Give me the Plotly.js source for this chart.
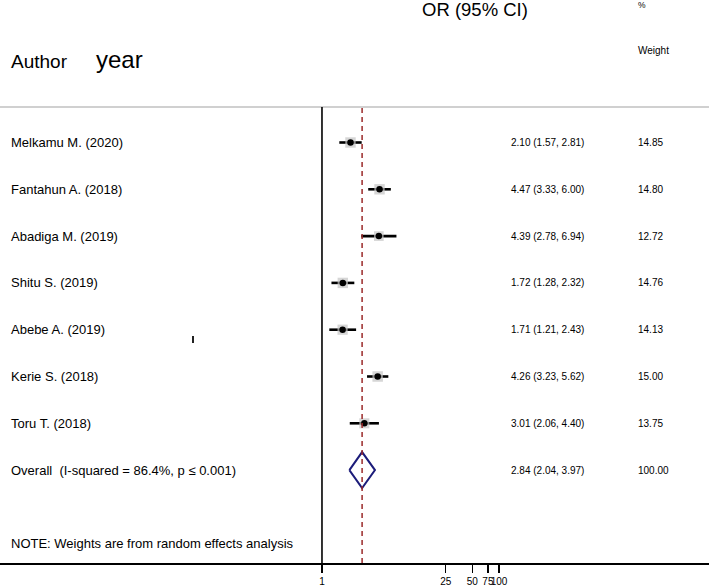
<!DOCTYPE html>
<html>
<head>
<meta charset="utf-8">
<script src="https://cdn.plot.ly/plotly-3.0.1.min.js"></script>
<style>
  html, body { margin: 0; padding: 0; background: #fff; }
  #grafico { width: 709px; height: 588px; }
</style>
</head>
<body>
<div id="grafico"></div>
<script>
// study data
const authors = ['Melkamu M. (2020)', 'Fantahun A. (2018)', 'Abadiga M. (2019)', 'Shitu S. (2019)',
                 'Abebe A. (2019)', 'Kerie S. (2018)', 'Toru T. (2018)'];
const oddsRatio = [2.10, 4.47, 4.39, 1.72, 1.71, 4.26, 3.01];
const ciLow  = [1.57, 3.33, 2.78, 1.28, 1.21, 3.23, 2.06];
const ciHigh = [2.81, 6.00, 6.94, 2.32, 2.43, 5.62, 4.40];
const weights = [14.85, 14.80, 12.72, 14.76, 14.13, 15.00, 13.75];

// pooled estimate
const overallLabel = 'Overall  (I-squared = 86.4%, p \u2264 0.001)';
const overallOR = 2.84;
const overallLow = 2.04;
const overallHigh = 3.97;
const overallWeight = 100.00;

const tickVals = [1, 25, 50, 75, 100];
const tickText = ['1', '25', '50', '75', '100'];

const W = 709, H = 588, plotH = 563;
const FONT = 'Liberation Sans, Arial, Helvetica, sans-serif';

// pixel -> paper helpers
const px = x => x / W;
const py = y => 1 - y / plotH;

const rows = authors.map((_, i) => i + 1);
const overallRow = authors.length + 1;

// confidence interval lines (null separated)
const ciX = [], ciY = [];
rows.forEach((r, i) => {
    ciX.push(ciLow[i], ciHigh[i], null);
    ciY.push(r, r, null);
});

const traceCI = {
    x: ciX, y: ciY,
    mode: 'lines',
    line: { color: 'black', width: 2.6 },
    hoverinfo: 'skip',
    showlegend: false,
};

// weight boxes, area proportional to weight
const traceBoxes = {
    x: oddsRatio, y: rows,
    mode: 'markers',
    marker: {
        symbol: 'square',
        color: '#c4c4c4',
        size: weights.map(w => 10.5 * Math.sqrt(w / 15)),
        line: { width: 0 },
    },
    showlegend: false,
};

const tracePoints = {
    x: oddsRatio, y: rows,
    mode: 'markers',
    marker: { symbol: 'circle', color: 'black', size: 6.5 },
    showlegend: false,
};

// pooled diamond
const halfH = 0.385;
const traceDiamond = {
    x: [overallLow, overallOR, overallHigh, overallOR, overallLow],
    y: [overallRow, overallRow - halfH, overallRow, overallRow + halfH, overallRow],
    mode: 'lines',
    line: { color: '#1c1c7a', width: 2 },
    showlegend: false,
};

const annotations = [];
const addText = (text, x, y, size, anchor, yref) => {
    annotations.push({
        text: text, x: x, y: y,
        xref: 'paper', yref: yref || 'paper',
        xanchor: anchor || 'left', yanchor: 'middle',
        showarrow: false,
        font: { family: FONT, size: size, color: 'black' },
    });
};

// headers
addText('OR (95% CI)', px(475.5), py(9), 18.5, 'center');
addText('%', px(636), py(5), 8.5);
addText('Weight', px(636), py(50), 10);
addText('Author', px(9), py(61), 19);
addText('year', px(94), py(59), 24);

// study rows
rows.forEach((r, i) => {
    addText(authors[i], px(9), r, 13, 'left', 'y');
    addText(`${oddsRatio[i].toFixed(2)} (${ciLow[i].toFixed(2)}, ${ciHigh[i].toFixed(2)})`, px(509), r, 10, 'left', 'y');
    addText(weights[i].toFixed(2), px(636), r, 10, 'left', 'y');
});
addText(overallLabel, px(9), overallRow, 13, 'left', 'y');
addText(`${overallOR.toFixed(2)} (${overallLow.toFixed(2)}, ${overallHigh.toFixed(2)})`, px(509), overallRow, 10, 'left', 'y');
addText(overallWeight.toFixed(2), px(636), overallRow, 10, 'left', 'y');
addText('NOTE: Weights are from random effects analysis', px(9), py(543), 13);

const shapes = [
    // header separator
    { type: 'line', xref: 'paper', yref: 'paper', x0: 0, x1: 1, y0: py(107), y1: py(107),
      line: { color: '#c0c0c0', width: 1.5 } },
    // no-effect line
    { type: 'line', xref: 'x', yref: 'paper', x0: 1, x1: 1, y0: 0, y1: py(107),
      line: { color: 'black', width: 1.6 } },
    // pooled estimate line
    { type: 'line', xref: 'x', yref: 'paper', x0: overallOR, x1: overallOR, y0: 0, y1: py(108),
      line: { color: '#9a2a2a', width: 1.5, dash: '5px,4px' } },
    // small stray mark in the original
    { type: 'line', xref: 'paper', yref: 'paper', x0: px(193), x1: px(193), y0: py(336), y1: py(343),
      line: { color: '#222', width: 2 } },
];

const layout = {
    width: W, height: H,
    margin: { l: 0, r: 0, t: 0, b: H - plotH, pad: 0 },
    paper_bgcolor: 'white',
    plot_bgcolor: 'white',
    showlegend: false,
    xaxis: {
        type: 'log',
        range: [-3.638, 4.373],
        showgrid: false,
        zeroline: false,
        showline: true,
        linecolor: 'black',
        linewidth: 1.5,
        ticks: 'outside',
        ticklen: 8,
        tickwidth: 1.5,
        tickcolor: 'black',
        tickvals: tickVals,
        ticktext: tickText,
        tickangle: 0,
        tickfont: { family: FONT, size: 10, color: 'black' },
        fixedrange: true,
    },
    yaxis: {
        range: [9.985, -2.045],
        visible: false,
        showgrid: false,
        zeroline: false,
        fixedrange: true,
    },
    shapes: shapes,
    annotations: annotations,
};

Plotly.newPlot('grafico', [traceCI, traceBoxes, tracePoints, traceDiamond], layout, { displayModeBar: false, staticPlot: true });
</script>
</body>
</html>
